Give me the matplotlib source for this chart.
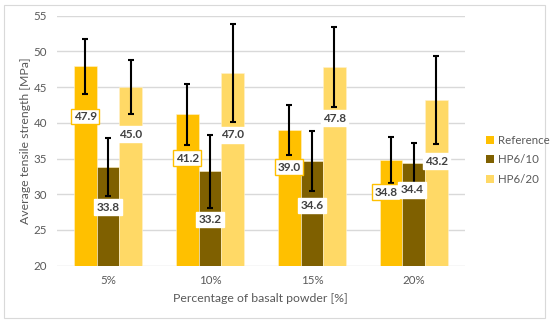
import numpy as np
import matplotlib.pyplot as plt
from matplotlib.patches import Rectangle, Patch

plt.rcParams['font.family'] = ['Lato', 'DejaVu Sans']

# data
categories = ['5%', '10%', '15%', '20%']
series = ['Reference', 'HP6/10', 'HP6/20']
ref_vals = [47.9, 41.2, 39.0, 34.8]
hp10_vals = [33.8, 33.2, 34.6, 34.4]
hp20_vals = [45.0, 47.0, 47.8, 43.2]
ref_err = [3.9, 4.25, 3.5, 3.25]
hp10_err = [4.1, 5.1, 4.2, 2.85]
hp20_err = [3.8, 6.9, 5.6, 6.15]

# layout: where each value label sits relative to its bar top (pixels)
label_drop = [
    [50, 44, 37, 32],
    [40, 48, 44, 27],
    [47, 62, 51, 61],
]
label_dx = [
    [0, 0, 0, -5],
    [0, 0, 0, -2],
    [0, 0, 0, 0],
]

colors = ['#FFC000', '#7F6000', '#FFD966']
label_edge = ['#FFC000', 'white', 'white']
txt = '#595959'

fig = plt.figure(figsize=(5.5, 3.23), dpi=100)
ax = fig.add_axes([0.1036, 0.1774, 0.7414, 0.7738])

x = np.arange(len(categories))
w = 0.222
vals = [ref_vals, hp10_vals, hp20_vals]
errs = [ref_err, hp10_err, hp20_err]

for i, (v, e) in enumerate(zip(vals, errs)):
    xs = x + (i - 1) * w
    ax.bar(xs, v, w, color=colors[i], edgecolor='#FFF2CC', linewidth=0.4,
           zorder=2, label=series[i])
    ax.errorbar(xs, v, yerr=e, fmt='none', ecolor='black', elinewidth=1.5,
                capsize=2.2, capthick=1.5, zorder=3)
    for j in range(len(v)):
        ax.annotate(f'{v[j]:.1f}', (xs[j], v[j]),
                    xytext=(label_dx[i][j] * 0.72, -label_drop[i][j] * 0.72),
                    textcoords='offset points',
                    ha='center', va='center', fontsize=8.5, fontweight='bold',
                    color='#404040', zorder=4,
                    bbox=dict(boxstyle='square,pad=0.2', fc='white',
                              ec=label_edge[i], lw=1.0))

ax.set_ylim(20, 55)
ax.set_xlim(-0.5, 3.5)
ax.set_yticks(np.arange(20, 56, 5))
ax.set_xticks(x)
ax.set_xticklabels(categories)
ax.grid(axis='y', color='#D9D9D9', lw=1, zorder=0)
ax.set_axisbelow(True)
for s in ax.spines.values():
    s.set_visible(False)
ax.tick_params(length=0, labelsize=8.3, colors=txt, pad=7)
ax.set_ylabel('Average tensile strength [MPa]', fontsize=8.8, color=txt, labelpad=2)
ax.set_xlabel('Percentage of basalt powder [%]', fontsize=8.8, color=txt, labelpad=5)

handles = [Patch(facecolor=c, edgecolor='none') for c in colors]
fig.legend(handles, series, loc='center left', bbox_to_anchor=(0.865, 0.505),
           frameon=False, fontsize=8.3, labelcolor=txt, handlelength=0.65,
           handleheight=0.65, handletextpad=0.35, labelspacing=0.75)

fig.patches.append(Rectangle((0.008, 0.016), 0.983, 0.97, transform=fig.transFigure,
                             fill=False, ec='#D9D9D9', lw=0.8))

fig.savefig('out.png', dpi=100)
